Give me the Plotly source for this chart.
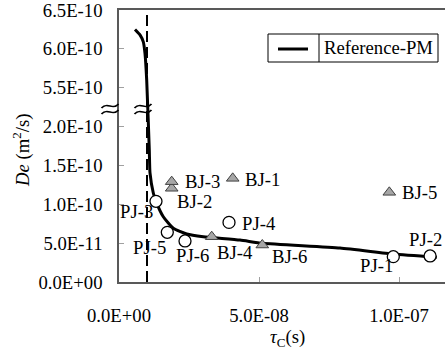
import plotly.graph_objects as go

# ---------------- data ----------------
curve_name = "Reference-PM"
curve_x = [5.71e-9, 7.5e-9, 8.68e-9, 9.29e-9, 9.89e-9, 1.082e-8, 1.107e-8, 1.225e-8,
           1.321e-8, 1.582e-8, 1.939e-8, 2.418e-8, 3.011e-8, 4.321e-8, 5.118e-8,
           7.893e-8, 9.796e-8, 1.135e-7]
curve_y = [6.25e-10, 6.18e-10, 6.09e-10, 5.94e-10, 5.60e-10, 1.698e-10, 1.403e-10, 1.145e-10,
           1.038e-10, 8.40e-11, 6.91e-11, 6.18e-11, 5.83e-11, 5.40e-11, 4.98e-11,
           4.37e-11, 3.60e-11, 3.18e-11]

pj_names = ["PJ-1", "PJ-2", "PJ-3", "PJ-4", "PJ-5", "PJ-6"]
pj_x = [9.796e-8, 1.111e-7, 1.321e-8, 3.929e-8, 1.725e-8, 2.357e-8]
pj_y = [3.26e-11, 3.35e-11, 1.038e-10, 7.67e-11, 6.39e-11, 5.28e-11]

bj_names = ["BJ-1", "BJ-2", "BJ-3", "BJ-4", "BJ-5", "BJ-6"]
bj_x = [4.061e-8, 1.882e-8, 1.882e-8, 3.311e-8, 9.654e-8, 5.118e-8]
bj_y = [1.334e-10, 1.206e-10, 1.291e-10, 5.83e-11, 1.154e-10, 4.76e-11]

dash_x = 1.0e-8

x_tick_vals = [0.0, 5.0e-8, 1.0e-7]
x_tick_text = ["0.0E+00", "5.0E-08", "1.0E-07"]
y_tick_vals = [0.0, 5.0e-11, 1.0e-10, 1.5e-10, 2.0e-10, 5.5e-10, 6.0e-10, 6.5e-10]
y_tick_text = ["0.0E+00", "5.0E-11", "1.0E-10", "1.5E-10", "2.0E-10",
               "5.5E-10", "6.0E-10", "6.5E-10"]

# broken y axis: values above the break are shifted down by the hidden span
BREAK_AT = 5.0e-10
BREAK_GAP = 3.0e-10


def brk(v):
    return v - BREAK_GAP if v >= BREAK_AT else v


# ---------------- layout constants ----------------
W, H = 445, 356
ML, MR, MT, MB = 119, 0, 10, 74
PW, PH = W - ML - MR, H - MT - MB
X_MAX = PW / 140.0 * 5.0e-8
Y_MAX = brk(6.5e-10)
FONT = "Liberation Serif, Times New Roman, serif"
FS = 18.7


def px2p(px, py):
    return (px - ML) / PW, (H - MB - py) / PH


fig = go.Figure()

fig.add_trace(go.Scatter(
    x=curve_x, y=[brk(v) for v in curve_y], mode="lines", name=curve_name,
    line=dict(color="black", width=3, shape="spline", smoothing=0.5),
    showlegend=False, hoverinfo="skip"))

fig.add_trace(go.Scatter(
    x=bj_x, y=[brk(v) for v in bj_y], mode="markers", name="BJ",
    marker=dict(symbol="triangle-up", size=11, color="#a6a6a6",
                line=dict(color="#404040", width=1)),
    showlegend=False))

fig.add_trace(go.Scatter(
    x=pj_x, y=[brk(v) for v in pj_y], mode="markers", name="PJ",
    marker=dict(symbol="circle", size=12, color="white",
                line=dict(color="black", width=1.3)),
    showlegend=False))

# label placement (pixel offsets: dx right, dy down)
pj_lab = [("right", 2, 9), ("center", -5, -16), ("center", -19, 10),
          ("left", 11, 1), ("right", 1, 15), ("center", 7.5, 15)]
bj_lab = [("left", 10, 1.5), ("left", 3.3, 13), ("left", 11.5, 0),
          ("left", 3.3, 16), ("left", 10.7, 0), ("left", 8, 11)]

annotations = []
for names, xs, ys, labs in ((pj_names, pj_x, pj_y, pj_lab), (bj_names, bj_x, bj_y, bj_lab)):
    for n, xv, yv, (anc, dx, dy) in zip(names, xs, ys, labs):
        annotations.append(dict(
            x=xv, y=brk(yv), xref="x", yref="y", text=n, showarrow=False,
            xanchor=anc, yanchor="middle", xshift=dx, yshift=-dy,
            font=dict(family=FONT, size=FS, color="black")))

# axis titles
ax, ay = px2p(287, 338)
annotations.append(dict(x=ax, y=ay, xref="paper", yref="paper", showarrow=False,
                        text="<i>τ</i><sub>C</sub>(s)", xanchor="center", yanchor="middle",
                        font=dict(family=FONT, size=FS, color="black")))
tx, ty = px2p(22, 151)
annotations.append(dict(x=tx, y=ty, xref="paper", yref="paper", showarrow=False,
                        text="<i>De</i> (m<sup>2</sup>/s)", textangle=-90,
                        xanchor="center", yanchor="middle",
                        font=dict(family=FONT, size=FS, color="black")))

# legend (manual boxed legend)
lx, ly = px2p(322, 48)
annotations.append(dict(x=lx, y=ly, xref="paper", yref="paper", showarrow=False,
                        text=curve_name, xanchor="left", yanchor="middle",
                        font=dict(family=FONT, size=FS, color="black")))

shapes = []
# dashed vertical line
shapes.append(dict(type="line", xref="x", yref="paper", x0=dash_x, x1=dash_x, y0=0, y1=1,
                   line=dict(color="black", width=2, dash="11px,5px")))
# legend box
x0, y0 = px2p(268, 62)
x1, y1 = px2p(438, 34)
shapes.append(dict(type="rect", xref="paper", yref="paper", x0=x0, y0=y0, x1=x1, y1=y1,
                   line=dict(color="black", width=1), fillcolor="white", layer="above"))
dx0, _ = px2p(319, 0)
shapes.append(dict(type="line", xref="paper", yref="paper", x0=dx0, x1=dx0, y0=y0, y1=y1,
                   line=dict(color="black", width=1)))
sx0, sy = px2p(278, 49)
sx1, _ = px2p(308, 49)
shapes.append(dict(type="line", xref="paper", yref="paper", x0=sx0, x1=sx1, y0=sy, y1=sy,
                   line=dict(color="black", width=3)))


# break marks (double tilde)
def tilde(cx, cy, w=17, a=5):
    pts = [(cx - w / 2, cy + 2), (cx - w / 2 + w * 0.35, cy - a),
           (cx - w / 2 + w * 0.65, cy + a), (cx + w / 2, cy - 2)]
    pp = [px2p(*p) for p in pts]
    return "M {:.5f},{:.5f} C {:.5f},{:.5f} {:.5f},{:.5f} {:.5f},{:.5f}".format(
        pp[0][0], pp[0][1], pp[1][0], pp[1][1], pp[2][0], pp[2][1], pp[3][0], pp[3][1])


for cx in (110, 143):
    for cy in (106, 112):
        shapes.append(dict(type="path", xref="paper", yref="paper", path=tilde(cx, cy),
                           line=dict(color="black", width=1.8), layer="above"))

fig.update_layout(
    width=W, height=H, margin=dict(l=ML, r=MR, t=MT, b=MB, pad=0),
    paper_bgcolor="white", plot_bgcolor="white",
    font=dict(family=FONT, size=FS, color="black"),
    showlegend=False, annotations=annotations, shapes=shapes,
    xaxis=dict(range=[0, X_MAX], tickvals=x_tick_vals, ticktext=x_tick_text,
               showgrid=False, zeroline=False, showline=True, linecolor="#595959",
               linewidth=1.5, mirror=True, ticks="inside", ticklen=5, tickcolor="#a0a0a0",
               ticklabelstandoff=16, ticklabeloverflow="allow",
               tickfont=dict(family=FONT, size=FS, color="black")),
    yaxis=dict(range=[0, Y_MAX], tickvals=[brk(v) for v in y_tick_vals], ticktext=y_tick_text,
               showgrid=False, zeroline=False, showline=True, linecolor="#595959",
               linewidth=1.5, ticks="inside", ticklen=5, tickcolor="#a0a0a0",
               ticklabelstandoff=11, ticklabeloverflow="allow",
               tickfont=dict(family=FONT, size=FS, color="black")),
)

fig.write_html("out.html", config={"displayModeBar": False},
               post_script="document.body.style.margin='0px';document.body.style.overflow='hidden';")
